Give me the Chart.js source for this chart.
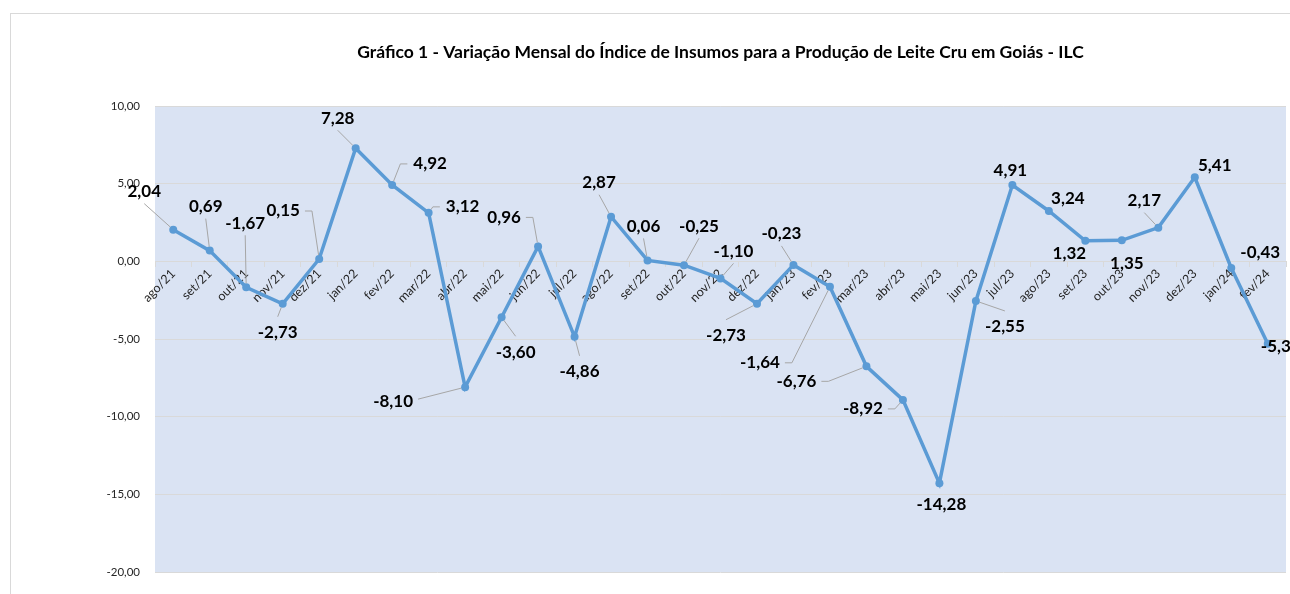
<!DOCTYPE html>
<html><head><meta charset="utf-8">
<script src="https://cdn.jsdelivr.net/npm/chart.js@4/dist/chart.umd.min.js"></script>
<style>
html,body{margin:0;padding:0;background:#fff;overflow:hidden}
#wrap{position:relative;width:1290px;height:594px;overflow:hidden}
#frame{position:absolute;left:10px;top:13px;width:1300px;height:600px;border:1px solid #d9d9d9;box-sizing:border-box}
canvas{position:absolute;left:0;top:0}
</style></head><body>
<div id="wrap"><div id="frame"></div><canvas id="c" width="1290" height="594"></canvas></div>
<script>
const titleText = 'Gráfico 1 - Variação Mensal do Índice de Insumos para a Produção de Leite Cru em Goiás - ILC';
const categories = ['ago/21','set/21','out/21','nov/21','dez/21','jan/22','fev/22','mar/22','abr/22','mai/22','jun/22','jul/22','ago/22','set/22','out/22','nov/22','dez/22','jan/23','fev/23','mar/23','abr/23','mai/23','jun/23','jul/23','ago/23','set/23','out/23','nov/23','dez/23','jan/24','fev/24'];
const values = [2.04,0.69,-1.67,-2.73,0.15,7.28,4.92,3.12,-8.10,-3.60,0.96,-4.86,2.87,0.06,-0.25,-1.10,-2.73,-0.23,-1.64,-6.76,-8.92,-14.28,-2.55,4.91,3.24,1.32,1.35,2.17,5.41,-0.43,-5.30];
const yMin = -20, yMax = 10, yStep = 5;

// label placement relative to each point: [dx, dy, leader type]
const labelLayout = [
  [-29,-38,'b'],[-4,-44,'b'],[-1,-64,'b'],[-5,29,'t'],[-36,-48,'rE'],[-18,-30,'b'],
  [38,-21,'lE'],[34,-6,'lE'],[-72,14,'r'],[14,35,'t'],[-34,-29,'rE'],[5,35,'t'],
  [-12,-34,'b'],[-4,-34,'b'],[15,-39,'b'],[13,-27,'b'],[-31,32,'t'],[-12,-31,'b'],
  [-70,76,'rE'],[-70,15,'rE'],[-40,9,'rE'],[2,21,''],[29,26,'t'],[-2,-15,''],
  [19,-12,''],[-16,13,''],[5,23,''],[-14,-27,'b'],[20,-12,''],[29,-15,''],[13,3,'']
];

const fmt = v => v.toFixed(2).replace('.', ',');

const bgPlugin = {
  id: 'bg',
  beforeDraw(chart) {
    const {ctx, chartArea: a} = chart;
    ctx.save();
    ctx.fillStyle = '#dae3f3';
    ctx.fillRect(a.left, a.top, a.right - a.left, a.bottom - a.top);
    ctx.restore();
  }
};

const labelPlugin = {
  id: 'dlabels',
  afterDatasetsDraw(chart) {
    const ctx = chart.ctx;
    const meta = chart.getDatasetMeta(0);
    ctx.save();
    ctx.font = 'bold 17px Lato';
    meta.data.forEach((pt, i) => {
      const [dx, dy, type] = labelLayout[i];
      const cx = pt.x + dx, cy = pt.y + dy;
      const txt = fmt(values[i]);
      const w = ctx.measureText(txt).width;
      let pts = null;
      if (type === 'b') pts = [[cx, cy + 12]];
      else if (type === 't') pts = [[cx, cy - 16]];
      else if (type === 'rE') pts = [[cx + w/2 + 5, cy], [cx + w/2 + 12, cy]];
      else if (type === 'lE') pts = [[cx - w/2 - 6, cy], [cx - w/2 - 13, cy]];
      else if (type === 'r') pts = [[cx + w/2 + 5, cy - 2]];
      if (pts) {
        const last = pts[pts.length - 1];
        const ddx = pt.x - last[0], ddy = pt.y - last[1];
        const d = Math.hypot(ddx, ddy) || 1;
        ctx.strokeStyle = '#a6a6a6';
        ctx.lineWidth = 1;
        ctx.beginPath();
        ctx.moveTo(pts[0][0], pts[0][1]);
        for (let k = 1; k < pts.length; k++) ctx.lineTo(pts[k][0], pts[k][1]);
        ctx.lineTo(pt.x - ddx / d * 4, pt.y - ddy / d * 4);
        ctx.stroke();
      }
      ctx.fillStyle = '#000';
      ctx.textAlign = 'center';
      ctx.textBaseline = 'middle';
      ctx.fillText(txt, cx, cy);
    });
    ctx.restore();
  }
};

function build() {
  new Chart(document.getElementById('c'), {
    type: 'line',
    data: {
      labels: categories,
      datasets: [{
        data: values,
        borderColor: '#5b9bd5',
        backgroundColor: '#5b9bd5',
        borderWidth: 3.5,
        pointRadius: 4,
        pointBackgroundColor: '#5b9bd5',
        pointBorderWidth: 0,
        tension: 0,
        clip: false
      }]
    },
    options: {
      responsive: false,
      animation: false,
      devicePixelRatio: 1,
      layout: {padding: {left: 0, right: 3, top: 0, bottom: 22}},
      plugins: {
        legend: {display: false},
        tooltip: {enabled: false},
        title: {
          display: true, text: titleText, fullSize: false,
          color: '#000',
          font: {family: 'Lato', size: 17.5, weight: 'bold', lineHeight: 1.2},
          padding: {top: 42, bottom: 43}
        }
      },
      scales: {
        x: {
          axis: 'x',
          position: {y: 0},
          offset: true,
          grid: {display: true, drawOnChartArea: false, drawTicks: true, tickLength: 5, color: '#d9d9d9', offset: true},
          border: {display: true, color: '#d9d9d9'},
          ticks: {color: '#262626', font: {family: 'Lato', size: 12.5}, minRotation: 45, maxRotation: 45, autoSkip: false, padding: 0}
        },
        y: {
          min: yMin, max: yMax,
          afterFit(scale) { scale.width = 155; },
          grid: {color: '#d9d9d9', drawTicks: false},
          border: {display: false},
          ticks: {stepSize: yStep, padding: 15, color: '#262626', font: {family: 'Lato', size: 11.5}, callback: v => fmt(v)}
        }
      }
    },
    plugins: [bgPlugin, labelPlugin]
  });
}
Promise.all([document.fonts.load('bold 17px Lato'), document.fonts.load('12px Lato')]).then(build, build);
</script>
</body></html>
